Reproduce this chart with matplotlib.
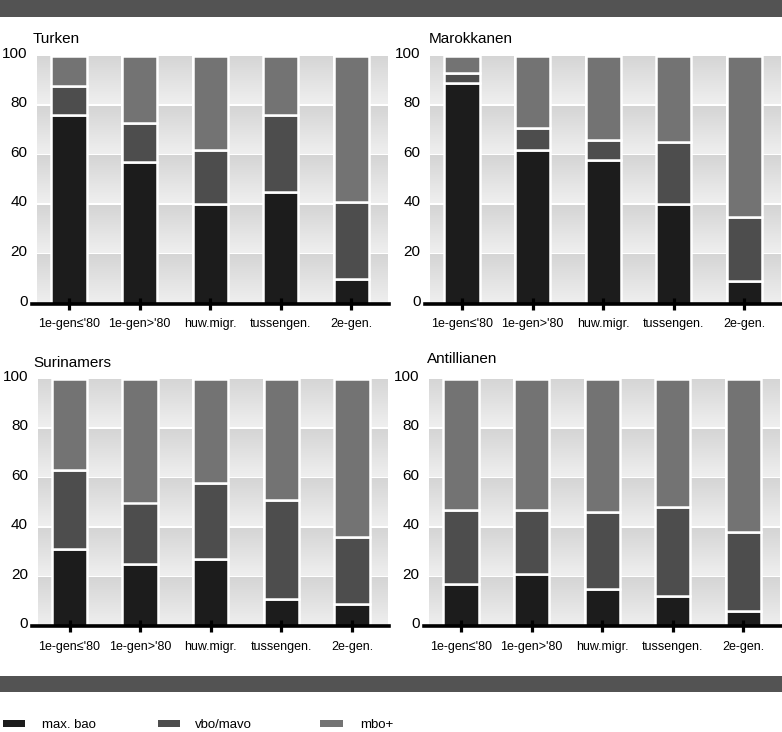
import numpy as np
import matplotlib
matplotlib.use("Agg")
import matplotlib.pyplot as plt
from matplotlib import font_manager
from matplotlib.colors import LinearSegmentedColormap
from matplotlib.transforms import offset_copy
from matplotlib.patches import Rectangle

# ---------------- data ----------------
categories = ["1e-gen\u2264'80", "1e-gen>'80", "huw.migr.", "tussengen.", "2e-gen."]
panels = ["Turken", "Marokkanen", "Surinamers", "Antillianen"]
series_names = ["max. bao", "vbo/mavo", "mbo+"]

max_bao = [
    [76, 57, 40, 45, 10],   # Turken
    [89, 62, 58, 40, 9],    # Marokkanen
    [31, 25, 27, 11, 9],    # Surinamers
    [17, 21, 15, 12, 6],    # Antillianen
]
vbo_mavo = [
    [12, 16, 22, 31, 31],
    [4, 9, 8, 25, 26],
    [32, 25, 31, 40, 27],
    [30, 26, 31, 36, 32],
]
mbo_plus = [
    [12, 27, 38, 24, 59],
    [7, 29, 34, 35, 65],
    [37, 50, 42, 49, 64],
    [53, 53, 54, 52, 62],
]
yticks = [0, 20, 40, 60, 80, 100]

# ---------------- style ----------------
colors = ["#1c1c1c", "#4d4d4d", "#737373"]
banner = "#535353"
names = {f.name for f in font_manager.fontManager.ttflist}
reg_font = "Liberation Sans" if "Liberation Sans" in names else "DejaVu Sans"
title_font = "Liberation Sans Narrow" if "Liberation Sans Narrow" in names else reg_font
title_size = 12.8 if title_font == "Liberation Sans Narrow" else 11

W, H = 782, 732
fig = plt.figure(figsize=(W / 100, H / 100), dpi=100)
fig.patch.set_facecolor("white")

def px_rect(l, t, r, b):
    return [l / W, 1 - b / H, (r - l) / W, (b - t) / H]

pitch = 70.6
xl0, xl1 = -0.53, 4.53
# (center of first category px, y of 100 px, y of 0 px)
geom = [
    (69.0, 55.8, 303.5),
    (462.0, 55.8, 303.5),
    (69.5, 378.9, 626.1),
    (461.0, 378.9, 626.1),
]
title_pos = [(33, 42.7), (429, 42.7), (33, 366.7), (427, 362.7)]

grad_cmap = LinearSegmentedColormap.from_list("bg", ["#efefef", "#d5d5d5"])
grad = np.linspace(0, 1, 64).reshape(-1, 1)

for p, name in enumerate(panels):
    c0, y100, y0 = geom[p]
    left = c0 + xl0 * pitch
    right = c0 + xl1 * pitch
    ax = fig.add_axes(px_rect(left, y100, right, y0))
    ax.set_facecolor("none")

    # background gradient columns between the bars
    for k in range(-1, 5):
        xc = k + 0.5
        xa = max(xc - 0.24, -0.45)
        xb = min(xc + 0.24, 4.51)
        for j in range(5):
            ya = j * 20 + (0.4 if j > 0 else 0)
            yb = (j + 1) * 20 - (0.4 if j < 4 else 0)
            ax.imshow(grad, extent=(xa, xb, ya, yb), origin="lower",
                      cmap=grad_cmap, vmin=0, vmax=1, aspect="auto",
                      interpolation="bilinear", zorder=0)

    x = np.arange(len(categories))
    bottom = np.zeros(len(categories))
    for vals, col in zip([max_bao[p], vbo_mavo[p], mbo_plus[p]], colors):
        v = np.array(vals, dtype=float)
        ax.bar(x, v, width=0.5, bottom=bottom, color=col, edgecolor="white",
               linewidth=1.8, zorder=1)
        bottom += v

    ax.set_xlim(xl0, xl1)
    ax.set_ylim(0, 100)
    for s in ["top", "right", "left"]:
        ax.spines[s].set_visible(False)
    ax.spines["bottom"].set_linewidth(2.6)
    ax.spines["bottom"].set_color("black")
    ax.spines["bottom"].set_zorder(3)
    ax.set_xticks(x)
    ax.set_xticklabels([])
    ax.set_yticks([])
    ax.tick_params(axis="x", direction="inout", length=8, width=2.3, color="black")

    # y labels
    ytr = offset_copy(ax.get_yaxis_transform(), fig=fig, x=-4, y=2, units="dots")
    for v in yticks:
        ax.text(0, v, str(v), transform=ytr, ha="right", va="center",
                fontsize=11, family=reg_font, color="black")
    # x labels
    xtr = offset_copy(ax.transData, fig=fig, x=0, y=-20.5, units="dots")
    for i, lab in enumerate(categories):
        ax.text(i, 0, lab, transform=xtr, ha="center", va="center",
                fontsize=9, family=reg_font, color="black")

    tx, ty = title_pos[p]
    fig.text(tx / W, 1 - ty / H, name, ha="left", va="baseline",
             fontsize=title_size, family=title_font, color="black")

# banners
fig.patches.append(Rectangle((0, 1 - 17 / H), 1, 17 / H, transform=fig.transFigure,
                             facecolor=banner, edgecolor="none", zorder=0))
fig.patches.append(Rectangle((0, 1 - 692 / H), 1, 16 / H, transform=fig.transFigure,
                             facecolor=banner, edgecolor="none", zorder=0))

# legend
leg_sq = [(3, 25), (158, 180), (320, 343)]
leg_tx = [42, 195, 360]
for (a, b), tx, col, lab in zip(leg_sq, leg_tx, colors, series_names):
    fig.patches.append(Rectangle((a / W, 1 - 727 / H), (b - a) / W, 7 / H,
                                 transform=fig.transFigure, facecolor=col,
                                 edgecolor="none"))
    fig.text(tx / W, 1 - 728 / H, lab, ha="left", va="baseline",
             fontsize=9.5, family=reg_font, color="black")

fig.savefig("out.png", dpi=100)
